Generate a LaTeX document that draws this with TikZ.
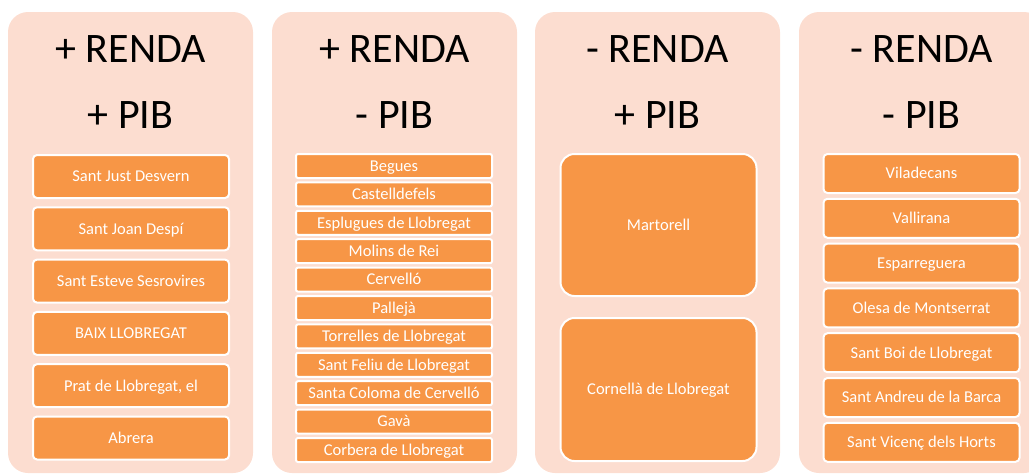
\documentclass[tikz,border=0pt]{standalone}
\usepackage{fontspec}
\setmainfont{Carlito}
\definecolor{peach}{HTML}{FCDDD0}
\definecolor{orangebox}{HTML}{F79646}
\begin{document}
\begin{tikzpicture}[x=1pt,y=-1pt,
  colbg/.style={fill=peach,draw=none,rounded corners=20pt},
  hdr/.style={font=\fontsize{42}{42}\selectfont,text=black,inner sep=0pt,text height=27pt,text depth=0pt},
  item/.style={fill=orangebox,draw=white,line width=2pt,text=white,inner sep=0pt,
    font=\fontsize{16.5}{16.5}\selectfont,text height=10.6pt,text depth=0pt,
    rounded corners=4pt,minimum width=196pt},
  itemA/.style={item,minimum height=43pt},
  itemB/.style={item,minimum height=24pt,rounded corners=2pt},
  itemC/.style={item,rounded corners=14pt},
  itemD/.style={item,minimum height=39pt}]
\useasboundingbox (0,0) rectangle (1029,475);
\begin{scope}
\clip (0,0) rectangle (1029,475);
% column backgrounds
\fill[colbg] (8,12) rectangle (253,473);
\fill[colbg] (272,12) rectangle (517,473);
\fill[colbg] (535,12) rectangle (780,473);
\fill[colbg] (799,12) rectangle (1044,473);
\end{scope}
% headers
\node[hdr] (h1a) at (130.5,49) {+ RENDA};
\node[hdr] (h1b) at (130.5,115) {+ PIB};
\node[hdr] (h2a) at (394.5,49) {+ RENDA};
\node[hdr] (h2b) at (394.5,115) {- PIB};
\node[hdr] (h3a) at (657.5,49) {- RENDA};
\node[hdr] (h3b) at (657.5,115) {+ PIB};
\node[hdr] (h4a) at (921.5,49) {- RENDA};
\node[hdr] (h4b) at (921.5,115) {- PIB};
% column 1
\foreach \t [count=\i from 0] in {Sant Just Desvern,Sant Joan Despí,Sant Esteve Sesrovires,BAIX LLOBREGAT,{Prat de Llobregat, el},Abrera}
  \node[itemA] (a\i) at (131,176.5+52.3*\i) {\t};
% column 2
\foreach \t [count=\i from 0] in {Begues,Castelldefels,Esplugues de Llobregat,Molins de Rei,Cervelló,Pallejà,Torrelles de Llobregat,Sant Feliu de Llobregat,Santa Coloma de Cervelló,Gavà,Corbera de Llobregat}
  \node[itemB] (b\i) at (394,166+28.4*\i) {\t};
% column 3
\node[itemC,minimum height=142pt] (c0) at (658.5,225) {Martorell};
\node[itemC,minimum height=143pt] (c1) at (658.5,389.5) {Cornellà de Llobregat};
% column 4
\foreach \t [count=\i from 0] in {Viladecans,Vallirana,Esparreguera,Olesa de Montserrat,Sant Boi de Llobregat,Sant Andreu de la Barca,Sant Vicenç dels Horts}
  \node[itemD] (d\i) at (921.5,173.5+44.8*\i) {\t};
\end{tikzpicture}
\end{document}
